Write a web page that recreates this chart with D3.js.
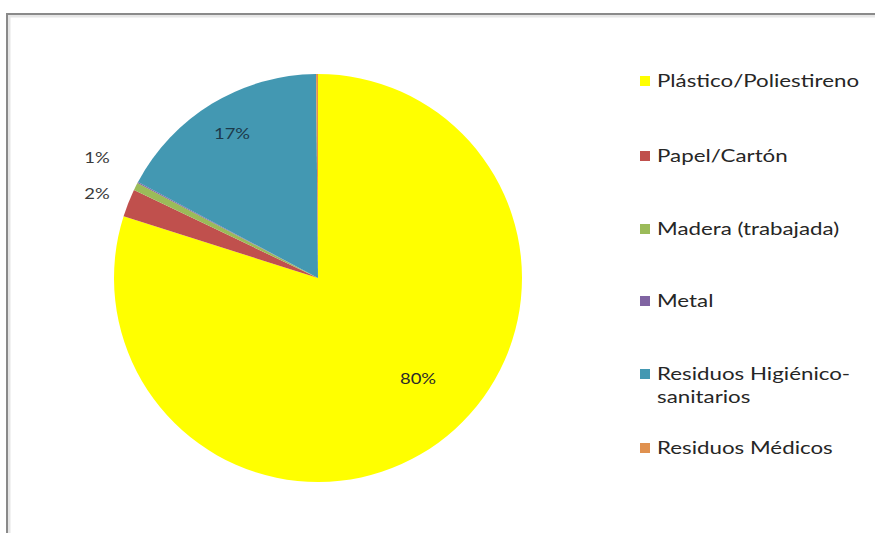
<!DOCTYPE html>
<html><head><meta charset="utf-8">
<script src="https://cdn.jsdelivr.net/npm/d3@7"></script>
<style>
html,body{margin:0;padding:0;background:#fff;overflow:hidden;}
svg{display:block;}
</style></head>
<body>
<svg id="chart" width="875" height="533"></svg>
<script>
const categories = ["Plástico/Poliestireno","Papel/Cartón","Madera (trabajada)","Metal","Residuos Higiénico-sanitarios","Residuos Médicos"];
const values = [79.9, 2.2, 0.6, 0.1, 17.05, 0.15];
const labels = ["80%","2%","1%","","17%",""];
const colors = ["#FFFF00","#C0504D","#9BBB59","#8064A2","#4398B2","#E0914F"];
const legendLines = [["Plástico/Poliestireno"],["Papel/Cartón"],["Madera (trabajada)"],["Metal"],["Residuos Higiénico-","sanitarios"],["Residuos Médicos"]];

const svg = d3.select("#chart");
const font = "Lato, 'Open Sans', sans-serif";

// frame with shadow
svg.append("rect").attr("x",9).attr("y",16).attr("width",1200).attr("height",800).attr("fill","none").attr("stroke","#e6e6e6").attr("stroke-width",3);
svg.append("rect").attr("x",7).attr("y",14).attr("width",1200).attr("height",800).attr("fill","none").attr("stroke","#8a8a8a").attr("stroke-width",2);

const cx = 318, cy = 278, r = 204;
const pie = d3.pie().sort(null).value(d => d)(values);
const arc = d3.arc().innerRadius(0).outerRadius(r);
const g = svg.append("g").attr("transform",`translate(${cx},${cy})`);
g.selectAll("path").data(pie).join("path")
  .attr("d",arc).attr("fill",(d,i)=>colors[i]);

// data labels
const labelXY = {0:[418,378],1:[97,193],2:[97,157],4:[232,133]};
const labelFill = {0:"#2a2a2a",1:"#3a3a3a",2:"#3a3a3a",4:"#1d3a4a"};
pie.forEach((d,i)=>{
  if(!labels[i]) return;
  const [x,y] = labelXY[i];
  svg.append("text").attr("transform",`translate(${x},${y}) scale(1.15,1)`)
    .attr("text-anchor","middle").attr("dominant-baseline","central")
    .attr("font-family",font).attr("font-size",16).attr("fill",labelFill[i]).text(labels[i]);
});

// legend
const legY = [80,155,228,300,373,447];
const leg = svg.append("g");
categories.forEach((c,i)=>{
  leg.append("rect").attr("x",640).attr("y",legY[i]-4).attr("width",10).attr("height",10).attr("fill",colors[i]);
  legendLines[i].forEach((t,j)=>{
    leg.append("text").attr("transform",`translate(657,${legY[i]+j*23}) scale(1.24,1)`)
      .attr("dominant-baseline","central")
      .attr("font-family",font).attr("font-size",18).attr("fill","#262626").text(t);
  });
});
</script>
</body></html>
